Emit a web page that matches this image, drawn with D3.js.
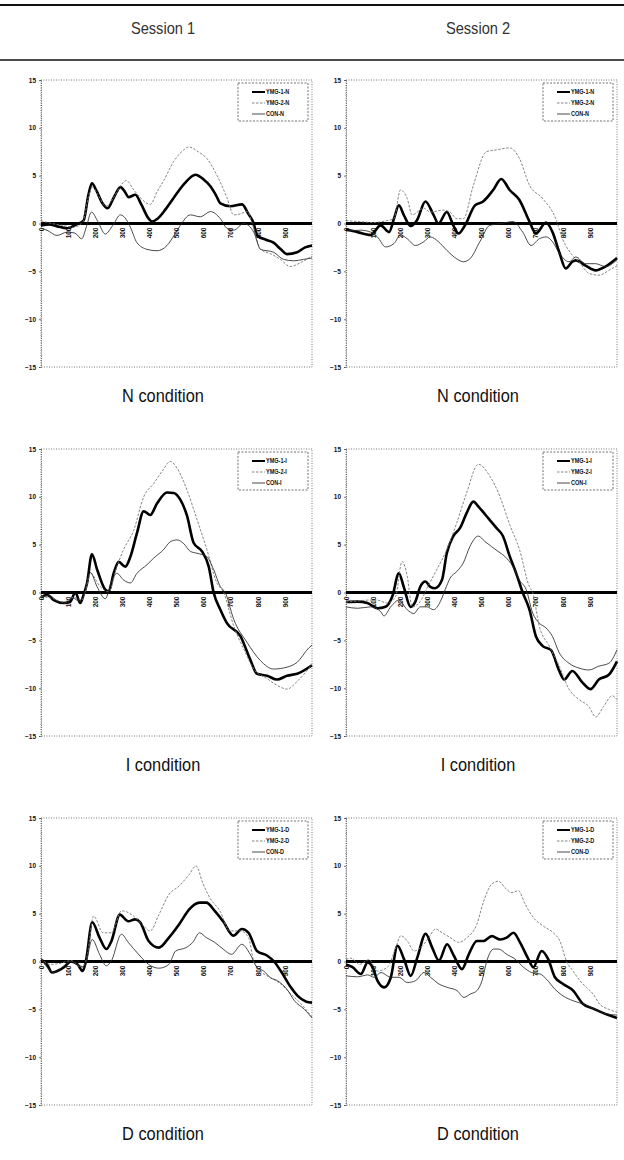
<!DOCTYPE html>
<html>
<head>
<meta charset="utf-8">
<script src="https://cdn.jsdelivr.net/npm/d3@7"></script>
<style>
  body { margin: 0; background: #fff; }
  svg { display: block; }
  .axis text { font-family: "Liberation Sans", Arial, sans-serif; font-weight: bold; font-size: 6.5px; fill: #111; }
  .axis .domain { stroke: #444; stroke-width: 0.8; stroke-dasharray: 1,1.2; }
  .axis .tick line { stroke: #444; stroke-width: 0.7; }
</style>
</head>
<body>
<div id="chart"></div>
<script>
const sessions = ["Session 1", "Session 2"];
const conditions = ["N", "I", "D"];
const seriesNames = ["YMG-1", "YMG-2", "CON"];
const xTicks = [0, 100, 200, 300, 400, 500, 600, 700, 800, 900];
const yTicks = [15, 10, 5, 0, -5, -10, -15];

// [ms, uV]
const s1N_ymg1 = [[0,-0.2],[30,-0.1],[60,-0.3],[96,-0.5],[130,-0.1],[157,0.3],[175,3.0],[188,4.2],[205,3.4],[225,2.2],[246,1.6],[270,2.8],[293,3.8],[310,3.3],[323,2.75],[348,3.0],[370,2.0],[395,0.6],[410,0.2],[430,0.5],[460,1.5],[490,2.7],[530,4.2],[570,5.1],[600,4.6],[625,3.9],[645,3.0],[662,2.1],[699,1.8],[742,2.0],[765,1.0],[785,0],[797,-1.25],[830,-1.7],[858,-2.0],[885,-2.7],[908,-3.2],[945,-3.0],[975,-2.5],[1000,-2.3]];
const s1N_ymg2 = [[0,0.3],[40,0],[80,-0.2],[120,-0.4],[155,0.2],[175,2.8],[190,3.8],[210,3.0],[240,1.8],[270,2.8],[295,4.0],[315,4.5],[340,3.6],[370,2.6],[403,2.0],[430,3.4],[453,4.5],[490,6.5],[527,7.7],[545,8.0],[580,7.5],[612,6.8],[650,5.0],[686,2.7],[711,0.9],[735,1.0],[760,1.25],[785,-0.5],[810,-2.7],[850,-3.2],[883,-3.75],[920,-4.5],[957,-4.1],[1000,-3.4]];
const s1N_con = [[0,-0.5],[22,-0.7],[59,-1.25],[96,-0.9],[125,-1.0],[150,-1.6],[168,-0.3],[186,1.2],[210,0.2],[237,-1.1],[265,-0.2],[293,0.9],[315,0.4],[330,-0.4],[354,-2.0],[391,-2.7],[428,-2.85],[465,-2.3],[490,-1.3],[514,-0.2],[551,0.9],[588,0.7],[625,1.25],[662,0.5],[686,-0.5],[711,-0.7],[748,0],[785,-0.9],[810,-2.7],[858,-3.0],[895,-3.75],[932,-3.9],[969,-3.75],[1000,-3.6]];

const s2N_ymg1 = [[0,-0.6],[43,-0.9],[91,-1.2],[128,-0.2],[159,-0.9],[178,0.6],[195,1.9],[213,0.9],[238,-0.25],[262,0.35],[293,2.3],[323,0.9],[341,0],[372,1.2],[396,-0.2],[415,-1.05],[439,-0.2],[476,1.9],[506,2.3],[543,3.5],[573,4.65],[604,3.5],[640,2.45],[677,0.2],[701,-1.05],[738,0.1],[762,-0.9],[787,-3.0],[811,-4.7],[835,-4.0],[848,-3.85],[884,-4.4],[921,-4.9],[957,-4.5],[1000,-3.6]];
const s2N_ymg2 = [[0,0.3],[50,0.2],[100,0.1],[150,0.3],[177,0.5],[201,3.5],[226,2.6],[244,0.9],[287,1.6],[311,1.2],[360,1.4],[384,1.2],[409,0.5],[433,0.5],[470,4.0],[518,7.5],[555,7.7],[604,7.9],[640,6.8],[677,4.0],[726,2.6],[774,0.5],[799,-1.6],[835,-3.3],[860,-4.0],[896,-5.2],[933,-5.4],[970,-4.9],[1000,-4.4]];
const s2N_con = [[0,-0.8],[55,-0.7],[91,-0.9],[116,-1.4],[146,-2.45],[177,-2.1],[201,-1.2],[226,-1.6],[256,-2.3],[287,-1.9],[311,-1.4],[341,-1.9],[372,-2.8],[409,-3.7],[433,-4.0],[457,-3.7],[494,-1.9],[530,-0.2],[573,0],[616,0.2],[652,-0.9],[683,-2.3],[713,-1.6],[738,-1.4],[762,-1.9],[787,-3.1],[823,-4.0],[848,-3.5],[884,-4.2],[921,-4.2],[957,-4.5],[1000,-3.8]];

const s1I_ymg1 = [[0,-0.5],[22,-0.25],[47,-0.8],[84,-1.1],[108,-0.95],[127,0],[145,-1.1],[157,-0.25],[170,1.0],[188,4.0],[207,2.4],[237,0.3],[250,0.1],[268,2.0],[287,3.2],[311,2.7],[330,3.75],[354,6.2],[379,8.5],[403,8.1],[428,9.3],[465,10.45],[490,10.4],[514,9.7],[539,8.0],[563,5.2],[594,4.3],[619,2.7],[637,0],[662,-1.8],[686,-3.2],[736,-4.55],[772,-7.0],[797,-8.5],[834,-8.7],[871,-9.1],[908,-8.7],[945,-8.5],[1000,-7.6]];
const s1I_ymg2 = [[0,-0.4],[40,-0.6],[84,-1.0],[120,-0.5],[150,-0.8],[165,0.2],[182,2.0],[219,0.6],[250,0.1],[280,2.7],[305,4.5],[342,6.5],[379,10.0],[416,11.4],[450,12.8],[477,13.7],[502,13.0],[539,10.7],[576,7.6],[612,4.5],[649,1.0],[674,0],[711,-3.5],[748,-5.9],[785,-8.0],[834,-9.0],[871,-9.7],[908,-10.1],[945,-9.3],[1000,-7.5]];
const s1I_con = [[0,-0.5],[30,-0.3],[60,-0.9],[90,-1.1],[120,-0.6],[140,-0.9],[157,-0.4],[182,2.1],[207,0.6],[237,-0.65],[262,1.3],[280,2.0],[305,1.3],[330,1.0],[354,2.0],[391,2.9],[416,3.6],[453,4.5],[477,5.3],[502,5.5],[527,5.1],[551,4.3],[576,4.1],[612,3.75],[637,2.4],[662,0.6],[680,0],[711,-2.8],[760,-5.2],[809,-7.1],[858,-8.0],[908,-7.8],[945,-7.3],[988,-5.8],[1000,-5.5]];

const s2I_ymg1 = [[0,-1.0],[43,-0.95],[79,-1.1],[116,-1.65],[146,-1.5],[171,-0.4],[195,2.0],[213,0.6],[238,-1.5],[256,-0.95],[274,0.6],[293,1.15],[311,0.6],[329,0.45],[354,1.3],[372,4.1],[396,5.9],[421,6.75],[445,8.3],[470,9.5],[488,9.0],[518,8.0],[555,6.75],[579,5.9],[604,3.8],[628,2.0],[652,0],[677,-1.8],[701,-4.6],[726,-5.6],[756,-6.0],[787,-8.2],[805,-9.1],[835,-8.2],[872,-9.4],[902,-10.1],[933,-9.1],[970,-8.6],[1000,-7.2]];
const s2I_ymg2 = [[0,-1.0],[40,-0.9],[80,-0.8],[116,-0.8],[152,-1.1],[183,-0.4],[207,3.25],[226,1.7],[244,-1.5],[274,-0.95],[299,0.45],[335,2.4],[372,4.5],[409,7.3],[445,10.4],[488,13.4],[530,12.2],[567,10.1],[604,7.1],[640,4.5],[677,0.6],[689,0],[713,-3.5],[750,-5.6],[787,-7.7],[823,-10.1],[860,-11.2],[896,-11.9],[921,-13.0],[951,-11.9],[982,-10.8],[1000,-11.2]];
const s2I_con = [[0,-1.5],[43,-1.65],[91,-1.5],[128,-2.0],[140,-2.45],[165,-1.5],[195,-0.8],[226,-1.8],[250,-2.2],[274,-1.5],[299,-1.5],[323,-1.8],[348,-0.95],[366,0.3],[384,1.5],[409,2.2],[433,3.1],[457,4.8],[488,5.9],[512,5.35],[537,4.8],[561,4.3],[585,3.8],[616,2.7],[640,1.3],[665,0.3],[689,-2.15],[713,-3.2],[738,-3.7],[762,-4.6],[787,-6.3],[823,-7.4],[860,-7.9],[896,-8.1],[933,-7.7],[970,-7.4],[1000,-6.0]];

const s1D_ymg1 = [[0,0.2],[22,-0.3],[41,-1.15],[60,-1.0],[85,-0.6],[110,0],[135,-0.3],[154,-1.0],[166,0.1],[189,4.1],[216,2.5],[241,1.3],[260,2.15],[291,4.9],[322,4.2],[347,4.4],[366,4.1],[397,2.15],[435,1.45],[472,2.5],[510,3.9],[547,5.45],[585,6.15],[610,6.15],[641,5.3],[672,4.2],[710,2.7],[741,3.4],[766,3.0],[797,1.1],[835,0.6],[860,0],[885,-1.0],[922,-2.7],[947,-3.6],[979,-4.2],[1000,-4.3]];
const s1D_ymg2 = [[0,0.3],[35,-0.3],[70,-0.2],[110,0.1],[150,-0.6],[170,0.5],[194,4.75],[229,3.0],[260,3.0],[297,5.3],[335,4.9],[372,3.9],[403,3.2],[435,4.9],[472,7.0],[510,7.9],[547,9.1],[572,10.0],[597,8.2],[622,6.7],[660,5.3],[697,3.2],[735,3.2],[766,2.5],[785,0],[810,-1.0],[847,-1.7],[885,-2.35],[922,-3.4],[960,-4.45],[1000,-5.8]];
const s1D_con = [[0,0.3],[22,-0.6],[47,-1.15],[85,-0.45],[110,0],[135,-0.3],[160,-0.6],[189,2.3],[216,0.75],[241,-0.45],[260,0.1],[297,2.85],[322,2.0],[360,0.75],[397,-0.3],[435,-0.7],[472,-0.3],[497,1.1],[535,1.45],[560,2.0],[585,3.0],[610,2.5],[641,2.0],[672,1.3],[703,0.75],[741,1.8],[772,0.75],[797,-0.6],[822,-1.0],[847,-1.7],[872,-2.0],[910,-3.0],[935,-4.1],[972,-5.0],[1000,-5.9]];

const s2D_ymg1 = [[0,-0.3],[24,-0.6],[55,-1.3],[80,-0.1],[98,-0.6],[116,-2.0],[141,-2.7],[165,-1.7],[190,1.65],[214,0.25],[239,-1.5],[263,0.4],[294,2.9],[318,1.45],[343,0.1],[373,1.8],[398,0.6],[428,-0.8],[453,0.75],[483,2.15],[508,2.15],[538,2.65],[569,2.3],[593,2.5],[618,3.0],[642,2.0],[673,0.25],[691,-0.6],[722,1.1],[746,0.25],[771,-1.65],[801,-2.35],[838,-3.05],[875,-4.45],[910,-4.9],[950,-5.4],[1000,-5.9]];
const s2D_ymg2 = [[0,0.2],[18,0.35],[50,-0.3],[85,0.2],[116,-1.0],[153,-0.6],[184,1.45],[202,2.7],[226,2.15],[251,1.1],[275,1.45],[306,2.5],[330,3.4],[355,3.0],[385,2.5],[416,2.0],[447,2.5],[483,3.9],[508,6.3],[538,8.1],[563,8.4],[587,7.7],[612,7.2],[636,7.4],[661,6.0],[691,4.6],[728,3.7],[765,3.0],[789,2.15],[814,0],[838,-1.0],[863,-2.0],[887,-2.7],[912,-3.4],[936,-4.45],[970,-5.0],[1000,-5.3]];
const s2D_con = [[0,-1.5],[43,-1.6],[80,-1.4],[104,-1.65],[129,-1.15],[165,-1.65],[196,-1.65],[226,-2.2],[257,-2.0],[288,-1.15],[312,-1.65],[343,-2.35],[373,-2.7],[410,-3.05],[435,-3.75],[459,-3.4],[483,-3.05],[502,-2.0],[520,0.1],[545,1.3],[563,1.3],[593,0.75],[624,0.25],[655,-0.6],[685,-1.15],[716,-1.3],[740,-1.85],[771,-2.9],[801,-3.6],[838,-4.1],[875,-4.45],[920,-5.0],[950,-5.4],[1000,-5.6]];

const panels = [
  { col: 0, row: 0, series: [s1N_ymg1, s1N_ymg2, s1N_con] },
  { col: 1, row: 0, series: [s2N_ymg1, s2N_ymg2, s2N_con] },
  { col: 0, row: 1, series: [s1I_ymg1, s1I_ymg2, s1I_con] },
  { col: 1, row: 1, series: [s2I_ymg1, s2I_ymg2, s2I_con] },
  { col: 0, row: 2, series: [s1D_ymg1, s1D_ymg2, s1D_con] },
  { col: 1, row: 2, series: [s2D_ymg1, s2D_ymg2, s2D_con] }
];

const W = 624, H = 1160;
const colLeft = [41, 346];
const rowTop = [80, 449, 818];
const pw = 271, ph = 287;
const labelX = [163, 478];
const styles = [
  { stroke: "#000", width: 2.6, dash: null },
  { stroke: "#777", width: 0.9, dash: "2.5,1.5" },
  { stroke: "#2a2a2a", width: 0.85, dash: null }
];
const titleFont = "'Liberation Sans', Arial, sans-serif";

// squeeze a text node horizontally, to mimic the narrow face of the original
function condense(sel, k) {
    sel.each(function () {
        const len = this.getComputedTextLength();
        d3.select(this)
            .attr("textLength", len * k)
            .attr("lengthAdjust", "spacingAndGlyphs");
    });
}

const svg = d3.select("#chart").append("svg")
    .attr("width", W)
    .attr("height", H);

// header rules and session titles
svg.append("line").attr("x1", 0).attr("x2", W).attr("y1", 5).attr("y2", 5)
    .attr("stroke", "#111").attr("stroke-width", 2);
svg.append("line").attr("x1", 0).attr("x2", W).attr("y1", 60).attr("y2", 60)
    .attr("stroke", "#111").attr("stroke-width", 1.6);

svg.selectAll(".session")
    .data(sessions)
    .enter()
    .append("text")
    .attr("class", "session")
    .attr("x", (d, i) => labelX[i])
    .attr("y", 34)
    .attr("text-anchor", "middle")
    .style("font-family", titleFont)
    .style("font-size", "17px")
    .style("fill", "#333")
    .text(d => d)
    .call(condense, 0.86);

const x = d3.scaleLinear().domain([0, 1000]).range([0, pw]);
const y = d3.scaleLinear().domain([-15, 15]).range([ph, 0]);

const line = d3.line()
    .x(d => x(d[0]))
    .y(d => y(d[1]))
    .curve(d3.curveMonotoneX);

panels.forEach(p => {
    const cond = conditions[p.row];
    const g = svg.append("g")
        .attr("transform", `translate(${colLeft[p.col]}, ${rowTop[p.row]})`);

    // dotted plot frame
    g.append("rect")
        .attr("x", 0).attr("y", 0)
        .attr("width", pw).attr("height", ph)
        .attr("fill", "none")
        .attr("stroke", "#555")
        .attr("stroke-width", 0.8)
        .attr("stroke-dasharray", "1,1.5");

    g.append("g")
        .attr("class", "axis")
        .call(d3.axisLeft(y).tickValues(yTicks).tickSize(2).tickPadding(3).tickFormat(d3.format("d")));

    // zero line
    g.append("line")
        .attr("x1", x(0)).attr("x2", x(1000))
        .attr("y1", y(0)).attr("y2", y(0))
        .attr("stroke", "#000")
        .attr("stroke-width", 3);

    const xAxis = g.append("g")
        .attr("class", "axis")
        .attr("transform", `translate(0, ${y(0)})`)
        .call(d3.axisBottom(x).tickValues(xTicks).tickSize(0).tickFormat(d3.format("d")));
    xAxis.select(".domain").remove();
    xAxis.selectAll("text")
        .attr("transform", "rotate(-90)")
        .attr("text-anchor", "end")
        .attr("x", -4)
        .attr("y", 0)
        .attr("dy", "0.35em");

    p.series.forEach((s, i) => {
        g.append("path")
            .datum(s)
            .attr("fill", "none")
            .attr("stroke", styles[i].stroke)
            .attr("stroke-width", styles[i].width)
            .attr("stroke-dasharray", styles[i].dash)
            .attr("stroke-linejoin", "round")
            .attr("d", line);
    });

    // legend
    const lg = g.append("g").attr("transform", `translate(${pw - 74}, 3)`);
    lg.append("rect")
        .attr("width", 70).attr("height", 38)
        .attr("fill", "#fff")
        .attr("stroke", "#333")
        .attr("stroke-width", 0.7)
        .attr("stroke-dasharray", "2,1.5");
    seriesNames.forEach((n, i) => {
        const ry = 9 + i * 11;
        lg.append("line")
            .attr("x1", 14).attr("x2", 27)
            .attr("y1", ry).attr("y2", ry)
            .attr("stroke", styles[i].stroke)
            .attr("stroke-width", i === 0 ? 2 : styles[i].width)
            .attr("stroke-dasharray", styles[i].dash);
        lg.append("text")
            .attr("x", 28).attr("y", ry)
            .attr("dy", "0.35em")
            .style("font-family", titleFont)
            .style("font-weight", "bold")
            .style("font-size", "6.5px")
            .style("fill", "#111")
            .text(`${n}-${cond}`)
            .call(condense, 0.85);
    });

    svg.append("text")
        .attr("x", labelX[p.col])
        .attr("y", rowTop[p.row] + ph + 35)
        .attr("text-anchor", "middle")
        .style("font-family", titleFont)
        .style("font-size", "19px")
        .style("fill", "#111")
        .text(`${cond} condition`)
        .call(condense, 0.86);
});
</script>
</body>
</html>
